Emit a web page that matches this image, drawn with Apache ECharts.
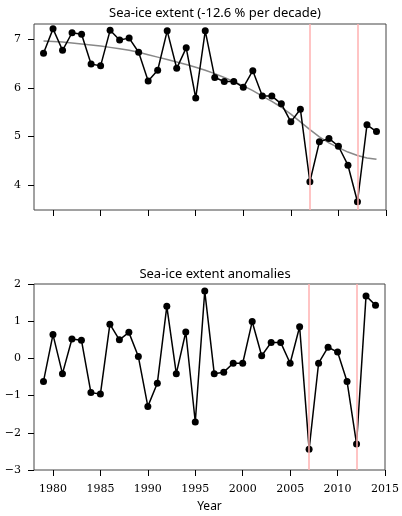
<!DOCTYPE html>
<html>
<head>
<meta charset="utf-8">
<script src="https://cdn.jsdelivr.net/npm/echarts@6/dist/echarts.min.js"></script>
<style>html,body{margin:0;padding:0;background:#fff}#c{width:402px;height:516px}</style>
</head>
<body>
<div id="c"></div>
<script>
var years = [1979,1980,1981,1982,1983,1984,1985,1986,1987,1988,1989,1990,1991,1992,1993,1994,1995,1996,1997,1998,1999,2000,2001,2002,2003,2004,2005,2006,2007,2008,2009,2010,2011,2012,2013,2014];
var extent = [6.71,7.21,6.77,7.13,7.10,6.49,6.45,7.18,6.98,7.02,6.73,6.14,6.36,7.17,6.40,6.82,5.79,7.17,6.21,6.13,6.13,6.01,6.35,5.83,5.83,5.67,5.30,5.56,4.07,4.89,4.96,4.80,4.41,3.66,5.24,5.10];
var trend = [6.96,6.95,6.94,6.92,6.90,6.88,6.86,6.83,6.80,6.77,6.73,6.68,6.63,6.58,6.53,6.48,6.42,6.36,6.29,6.21,6.13,6.04,5.94,5.83,5.72,5.60,5.46,5.30,5.14,4.99,4.87,4.77,4.68,4.61,4.56,4.53];
var anomalies = [-0.62,0.64,-0.41,0.52,0.49,-0.92,-0.96,0.92,0.50,0.70,0.05,-1.29,-0.67,1.40,-0.41,0.71,-1.71,1.81,-0.41,-0.37,-0.13,-0.13,0.99,0.07,0.43,0.43,-0.13,0.85,-2.44,-0.13,0.30,0.17,-0.62,-2.30,1.68,1.43];
var eventYears = [2007, 2012];
var xTicks = [1980,1985,1990,1995,2000,2005,2010,2015];
var yTicksTop = [4,5,6,7];
var titleTop = 'Sea-ice extent (-12.6 % per decade)';
var titleBottom = 'Sea-ice extent anomalies';
var xLabel = 'Year';

function pairs(v){ return years.map(function(y,i){ return [y, v[i]]; }); }
var serif = 'DejaVu Serif';
var sans = 'Noto Sans';
function fmt(v){ return v < 0 ? '\u2212' + Math.abs(v) : String(v); }

function xAx(idx, showLabels){
  return {
    type:'value', gridIndex:idx, min:1978, max:2015,
    splitLine:{show:false}, axisLine:{show:false, onZero:false},
    axisTick:{show:true, customValues:xTicks, length:6, inside:false, lineStyle:{color:'#000', width:1}},
    axisLabel:{show:showLabels, customValues:xTicks, fontFamily:serif, fontSize:11, color:'#000', margin:14,
      formatter:function(v){ return String(v); }},
    name: showLabels ? xLabel : '', nameLocation:'middle', nameGap:31,
    nameTextStyle:{fontFamily:sans, fontSize:12, color:'#000'}
  };
}
var markLines = {
  silent:true, symbol:'none', label:{show:false},
  lineStyle:{color:'#ffb0b0', width:1.5, type:'solid'},
  data: eventYears.map(function(y){ return {xAxis:y}; })
};

var chart = echarts.init(document.getElementById('c'), null, {renderer:'canvas'});
chart.setOption({
  animation:false,
  title:[
    {text:titleTop, left:210, top:2, textAlign:'center', textStyle:{fontFamily:sans, fontSize:13, fontWeight:'normal', color:'#000'}},
    {text:titleBottom, left:210, top:263, textAlign:'center', textStyle:{fontFamily:sans, fontSize:13, fontWeight:'normal', color:'#000'}}
  ],
  grid:[
    {left:34, right:16, top:24, height:186, show:true, borderColor:'#444', borderWidth:1, backgroundColor:'transparent'},
    {left:34, right:16, top:284, height:186, show:true, borderColor:'#444', borderWidth:1, backgroundColor:'transparent'}
  ],
  xAxis:[xAx(0,false), xAx(1,true)],
  yAxis:[
    {type:'value', gridIndex:0, min:3.49, max:7.31, splitLine:{show:false}, axisLine:{show:false, onZero:false},
     axisTick:{show:true, customValues:yTicksTop, length:6, lineStyle:{color:'#000'}},
     axisLabel:{customValues:yTicksTop, fontFamily:serif, fontSize:11, color:'#000', margin:13, formatter:fmt}},
    {type:'value', gridIndex:1, min:-3, max:2, interval:1, splitLine:{show:false}, axisLine:{show:false, onZero:false},
     axisTick:{show:true, length:6, lineStyle:{color:'#000'}},
     axisLabel:{fontFamily:serif, fontSize:11, color:'#000', margin:13, formatter:fmt}}
  ],
  series:[
    {type:'line', xAxisIndex:0, yAxisIndex:0, data:pairs(trend), showSymbol:false, symbol:'none',
     lineStyle:{color:'#888', width:1.5}, z:1, markLine:markLines},
    {type:'line', xAxisIndex:0, yAxisIndex:0, data:pairs(extent), symbol:'circle', symbolSize:7,
     itemStyle:{color:'#000'}, lineStyle:{color:'#000', width:1.5}, z:3},
    {type:'line', xAxisIndex:1, yAxisIndex:1, data:pairs(anomalies), symbol:'circle', symbolSize:7,
     itemStyle:{color:'#000'}, lineStyle:{color:'#000', width:1.5}, z:3, markLine:markLines}
  ]
});
</script>
</body>
</html>
